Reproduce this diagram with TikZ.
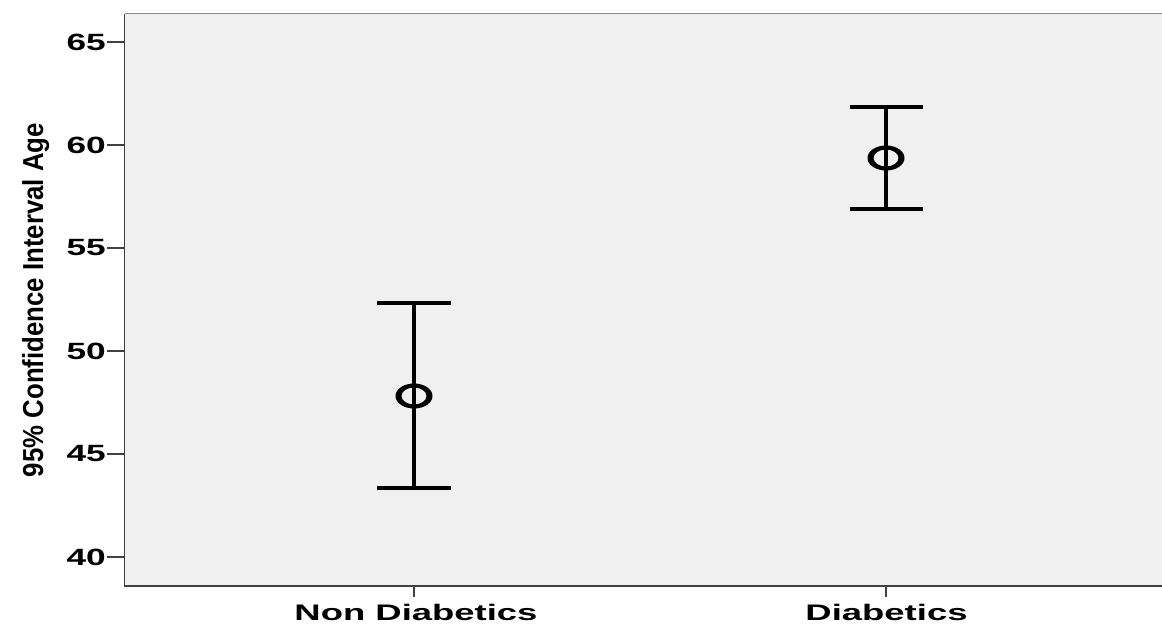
\documentclass[tikz,border=0pt]{standalone}
\usepackage{graphicx}
\usepackage{fontspec}
\setmainfont{Liberation Sans}
\newcommand\hstretch[2]{\scalebox{#1}[1]{#2}}
\definecolor{plotbg}{HTML}{F0F0F0}
\definecolor{axisdark}{HTML}{404040}
\definecolor{axislight}{HTML}{8A8A8A}
\begin{document}
\begin{tikzpicture}[x=1pt,y=-1pt,
  axisline/.style={draw=axisdark, line width=1.6pt},
  topline/.style={draw=axislight, line width=1.6pt},
  tickmark/.style={draw=axisdark, line width=1.6pt},
  ylab/.style={anchor=east, inner sep=0pt, font=\bfseries\fontsize{23.5}{24}\selectfont},
  xlab/.style={anchor=base, inner sep=0pt, font=\bfseries\fontsize{22.5}{23}\selectfont},
  errbar/.style={draw=black, line width=4pt},
  errcap/.style={draw=black, line width=3.6pt},
  marker/.style={fill=black, even odd rule}]
\useasboundingbox (0,0) rectangle (1162,624);
% plot area
\fill[plotbg] (124.5,13.5) rectangle (1162,586);
\coordinate (tl) at (124.5,13.5);
\coordinate (tr) at (1162,13.5);
\coordinate (bl) at (124.5,586);
\coordinate (br) at (1162,586);
\draw[topline] (tl) -- (tr);
\draw[axisline] (tl) -- (bl) -- (br);
% y ticks and labels
\foreach \v/\yy in {65/42,60/145,55/248,50/351,45/454,40/557}{
  \coordinate (yt\v) at (124.5,\yy);
  \coordinate (ys\v) at (107,\yy);
  \draw[tickmark] (ys\v) -- (yt\v);
  \node[ylab] (yl\v) at (106,\yy) {\hstretch{1.5}{\v}};
}
% y axis title
\node[rotate=90, anchor=base, inner sep=0pt, font=\bfseries\fontsize{25.8}{26}\selectfont] (ytitle) at (43,300)
  {\scalebox{1}[1.12]{95\% Confidence Interval Age}};
% x ticks and labels
\coordinate (xa1) at (414,586);
\coordinate (xb1) at (414,597);
\coordinate (xa2) at (886,586);
\coordinate (xb2) at (886,597);
\draw[tickmark] (xa1) -- (xb1);
\draw[tickmark] (xa2) -- (xb2);
\node[xlab] (xl1) at (416,620.5) {\hstretch{1.62}{Non Diabetics}};
\node[xlab] (xl2) at (886.5,620.5) {\hstretch{1.62}{Diabetics}};
% error bar: Non Diabetics
\coordinate (ndhi) at (414,303);
\coordinate (ndlo) at (414,488);
\coordinate (ndm) at (414,396);
\coordinate (ndhiL) at (377,303);
\coordinate (ndhiR) at (451,303);
\coordinate (ndloL) at (377,488);
\coordinate (ndloR) at (451,488);
\draw[errbar] (ndhi) -- (ndlo);
\draw[errcap] (ndhiL) -- (ndhiR);
\draw[errcap] (ndloL) -- (ndloR);
\fill[marker] (ndm) ellipse [x radius=18.5, y radius=12.5] (ndm) ellipse [x radius=12.5, y radius=8.5];
% error bar: Diabetics
\coordinate (dhi) at (886,107);
\coordinate (dlo) at (886,209);
\coordinate (dm) at (886,158);
\coordinate (dhiL) at (850,107);
\coordinate (dhiR) at (923,107);
\coordinate (dloL) at (850,209);
\coordinate (dloR) at (923,209);
\draw[errbar] (dhi) -- (dlo);
\draw[errcap] (dhiL) -- (dhiR);
\draw[errcap] (dloL) -- (dloR);
\fill[marker] (dm) ellipse [x radius=18.5, y radius=12.5] (dm) ellipse [x radius=12.5, y radius=8.5];
\end{tikzpicture}
\end{document}
